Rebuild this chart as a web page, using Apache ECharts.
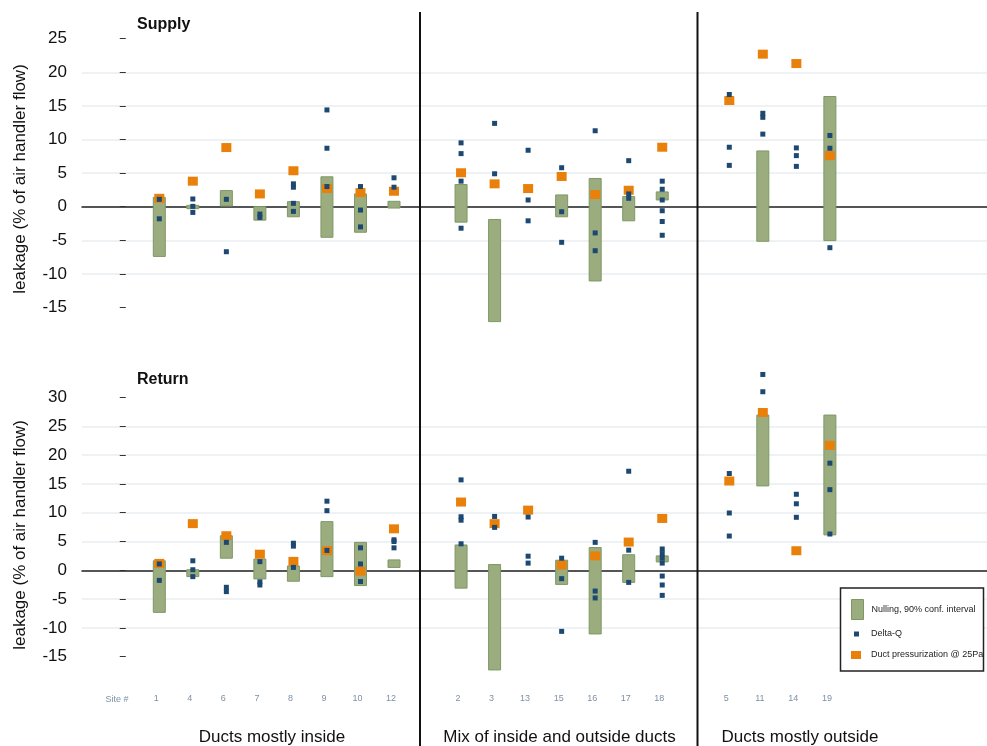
<!DOCTYPE html>
<html>
<head>
<meta charset="utf-8">
<script src="https://cdn.jsdelivr.net/npm/echarts@6/dist/echarts.min.js"></script>
<style>
  html, body { margin: 0; padding: 0; background: #ffffff; }
  #chart { width: 987px; height: 746px; }
</style>
</head>
<body>
<div id="chart"></div>
<script>
// Site order along the x axis; empty strings leave a gap between duct-location groups
const siteSlots = ['1','4','6','7','8','9','10','12','','2','3','13','15','16','17','18','','5','11','14','19'];
const sites = siteSlots.filter(s => s !== '');
const yTicksSupply = [-15, -10, -5, 0, 5, 10, 15, 20, 25];
const yTicksReturn = [-15, -10, -5, 0, 5, 10, 15, 20, 25, 30];
const groupNames = ['Ducts mostly inside', 'Mix of inside and outside ducts', 'Ducts mostly outside'];

// Supply leakage (% of air handler flow), one entry per site in `sites` order
const supplyNullingLow  = [-7.4, -0.3, 0.1, -2.0, -1.5, -4.55, -3.8, -0.2, -2.3, -17.1, null, -1.5, -11.05, -2.1, 1.0, null, -5.15, null, -5.05];
const supplyNullingHigh = [ 1.4,  0.2, 2.4,  0.0,  0.75, 4.45,  1.9,  0.8,  3.3,  -1.9, null,  1.75,  4.2,   1.5, 2.2, null,  8.3,  null, 16.4];
const supplyDeltaQ = [
  [1.1, -1.8], [1.15, 0.05, -0.85], [1.1, -6.7], [-1.1, -1.6], [3.4, 2.9, 0.5, -0.7],
  [14.4, 8.7, 3.0], [3.0, -0.5, -3.0], [4.3, 2.9],
  [9.5, 7.9, 3.8, -3.2], [12.4, 4.9], [8.4, 1.0, -2.1], [5.8, -0.75, -5.3],
  [11.3, -3.9, -6.55], [6.85, 1.9, 1.25], [3.8, 2.6, 1.0, -0.6, -2.2, -4.25],
  [16.7, 8.85, 6.15], [13.9, 13.3, 10.8], [8.75, 7.6, 6.0], [10.6, 8.7, -6.1]
];
const supplyPressurization = [1.25, 3.8, 8.8, 1.9, 5.35, 2.7, 2.1, 2.3, 5.05, 3.4, 2.7, 4.5, 1.8, 2.45, 8.85, 15.8, 22.7, 21.3, 7.6];

// Return leakage (% of air handler flow)
const returnNullingLow  = [-7.3, -1.1, 2.1, -1.5, -1.9, -1.1, -2.65, 0.5, -3.1, -17.3, null, -2.45, -11.05, -2.1, 1.45, null, 14.65, null, 6.15];
const returnNullingHigh = [ 1.65, 0.1, 6.0,  1.95, 0.75, 8.45, 4.85, 1.8,  4.4,   1.0, null,  1.75,   3.95,  2.7, 2.5,  null, 26.95, null, 26.95];
const returnDeltaQ = [
  [1.1, -1.75], [1.65, 0.1, -1.1], [4.85, -2.95, -3.7], [1.5, -2.0, -2.55], [4.7, 4.2, 0.5],
  [12.0, 10.35, 3.45], [3.9, 1.1, -1.95], [5.3, 5.0, 3.9],
  [15.7, 9.3, 8.7, 4.6], [9.35, 7.45], [9.25, 2.45, 1.25], [2.1, -1.45, -10.6],
  [4.85, -3.6, -4.8], [17.2, 3.5, -2.1], [3.7, 2.9, 2.1, 1.25, -1.0, -2.55, -4.35],
  [16.8, 9.95, 5.95], [34.0, 31.0], [13.2, 11.55, 9.2], [18.6, 14.0, 6.3]
];
const returnPressurization = [1.2, 8.1, 6.0, 2.8, 1.55, 3.4, -0.15, 7.2, 11.85, 8.1, 10.45, 0.9, 2.5, 4.9, 9.0, 15.5, 27.4, 3.4, 21.7];

const NULL_NAME = 'Nulling, 90% conf. interval';
const DQ_NAME = 'Delta-Q';
const PRESS_NAME = 'Duct pressurization @ 25Pa';

const COLOR_NULL = '#9bad7f';
const COLOR_NULL_EDGE = '#7e9865';
const COLOR_DQ = '#1c4872';
const COLOR_PRESS = '#e8800a';
const FONT = 'Liberation Sans, Arial, Helvetica, sans-serif';

// x position of a site = its slot number
const posOf = site => siteSlots.indexOf(site) + 1;
const sitePositions = sites.map(posOf);

function nullingData(lows, highs) {
  const out = [];
  sites.forEach((s, i) => {
    if (lows[i] !== null && highs[i] !== null) out.push([sitePositions[i], lows[i], highs[i]]);
  });
  return out;
}
function deltaQData(lists) {
  const out = [];
  sites.forEach((s, i) => lists[i].forEach(v => out.push([sitePositions[i], v])));
  return out;
}
function pressData(vals) {
  return sites.map((s, i) => [sitePositions[i], vals[i]]);
}

function renderNulling(params, api) {
  const x = api.value(0);
  const top = api.coord([x, api.value(2)]);
  const bottom = api.coord([x, api.value(1)]);
  const w = 12;
  return {
    type: 'rect',
    shape: { x: top[0] - w / 2, y: top[1], width: w, height: bottom[1] - top[1] },
    style: { fill: COLOR_NULL, stroke: COLOR_NULL_EDGE, lineWidth: 1 }
  };
}

const xMin = -1.3054, xMax = 25.686;

function makeYAxis(gridIndex, min, max, ticks) {
  return {
    type: 'value', gridIndex, min, max, interval: 5,
    axisLine: { show: false },
    axisTick: { show: true, length: 6, customValues: ticks, lineStyle: { color: '#333', width: 1 } },
    axisLabel: { customValues: ticks, fontSize: 17, color: '#111', fontFamily: FONT, margin: 15 },
    splitLine: { show: true, showMinLine: false, showMaxLine: false, lineStyle: { color: '#e8eef1', width: 1.5 } }
  };
}

const series = [];
[[0, supplyNullingLow, supplyNullingHigh, supplyDeltaQ, supplyPressurization],
 [1, returnNullingLow, returnNullingHigh, returnDeltaQ, returnPressurization]].forEach(([g, lo, hi, dq, pr]) => {
  series.push({
    name: NULL_NAME, type: 'custom', xAxisIndex: g, yAxisIndex: g,
    renderItem: renderNulling, data: nullingData(lo, hi),
    encode: { x: 0, y: [1, 2] }, itemStyle: { color: COLOR_NULL }, z: 2, silent: true
  });
  series.push({
    name: PRESS_NAME, type: 'scatter', xAxisIndex: g, yAxisIndex: g,
    symbol: 'rect', symbolSize: [10, 9], data: pressData(pr),
    itemStyle: { color: COLOR_PRESS, opacity: 1 }, z: 3, silent: true, clip: false
  });
  series.push({
    name: DQ_NAME, type: 'scatter', xAxisIndex: g, yAxisIndex: g,
    symbol: 'rect', symbolSize: 5, data: deltaQData(dq),
    itemStyle: { color: COLOR_DQ, opacity: 1 }, z: 4, silent: true, clip: false
  });
});

const legendText = pad => ({ fontSize: 9, color: '#222', fontFamily: FONT, padding: [0, 0, 0, pad] });

const option = {
  backgroundColor: '#ffffff',
  animation: false,
  grid: [
    { left: 82, right: 0, top: 5.1, height: 336 },
    { left: 82, right: 0, top: 368.7, height: 316.8 }
  ],
  xAxis: [
    { type: 'value', gridIndex: 0, min: xMin, max: xMax,
      axisLine: { onZero: true, lineStyle: { color: '#222', width: 1.5 } },
      axisTick: { show: false }, axisLabel: { show: false }, splitLine: { show: false } },
    { type: 'value', gridIndex: 1, min: xMin, max: xMax,
      axisLine: { onZero: true, lineStyle: { color: '#222', width: 1.5 } },
      axisTick: { show: false }, axisLabel: { show: false }, splitLine: { show: false } },
    { type: 'value', gridIndex: 1, min: xMin, max: xMax, position: 'bottom',
      axisLine: { show: false, onZero: false }, axisTick: { show: false }, splitLine: { show: false },
      axisLabel: {
        customValues: sitePositions, margin: 9, fontSize: 9, color: '#7d90a6', fontFamily: FONT,
        padding: [0, 6, 0, 0],
        formatter: v => siteSlots[Math.round(v) - 1] || ''
      } }
  ],
  yAxis: [
    makeYAxis(0, -20, 30, yTicksSupply),
    makeYAxis(1, -20, 35, yTicksReturn)
  ],
  legend: [
    { data: [{ name: NULL_NAME, icon: 'rect', itemStyle: { color: COLOR_NULL, borderColor: COLOR_NULL_EDGE, borderWidth: 1 } }],
      left: 851, top: 599, itemWidth: 12, itemHeight: 20, padding: 0, selectedMode: false, textStyle: legendText(3) },
    { data: [{ name: DQ_NAME, icon: 'rect', itemStyle: { color: COLOR_DQ } }],
      left: 854, top: 629.5, itemWidth: 5, itemHeight: 5, padding: 0, selectedMode: false, textStyle: legendText(7) },
    { data: [{ name: PRESS_NAME, icon: 'rect', itemStyle: { color: COLOR_PRESS } }],
      left: 851, top: 650.5, itemWidth: 10, itemHeight: 8, padding: 0, selectedMode: false, textStyle: legendText(5) }
  ],
  graphic: [
    // legend frame
    { type: 'rect', shape: { x: 840.5, y: 588, width: 143, height: 83 }, style: { fill: '#fff', stroke: '#222', lineWidth: 1.5 }, z: 1 },
    // group dividers
    { type: 'line', shape: { x1: 420, y1: 12, x2: 420, y2: 746 }, style: { stroke: '#111', lineWidth: 2 }, z: 10 },
    { type: 'line', shape: { x1: 697.5, y1: 12, x2: 697.5, y2: 746 }, style: { stroke: '#111', lineWidth: 2 }, z: 10 },
    // panel titles
    { type: 'text', x: 137, y: 25, style: { text: 'Supply', font: 'bold 16px ' + FONT, fill: '#111', verticalAlign: 'middle' }, z: 10 },
    { type: 'text', x: 137, y: 380, style: { text: 'Return', font: 'bold 16px ' + FONT, fill: '#111', verticalAlign: 'middle' }, z: 10 },
    // y axis titles
    { type: 'text', x: 20, y: 179, rotation: Math.PI / 2, style: { text: 'leakage (% of air handler flow)', font: '17px ' + FONT, fill: '#111', align: 'center', verticalAlign: 'middle' } },
    { type: 'text', x: 20, y: 535, rotation: Math.PI / 2, style: { text: 'leakage (% of air handler flow)', font: '17px ' + FONT, fill: '#111', align: 'center', verticalAlign: 'middle' } },
    // x label caption
    { type: 'text', x: 117, y: 700, style: { text: 'Site #', font: '9px ' + FONT, fill: '#7d90a6', align: 'center', verticalAlign: 'middle' } },
    // group captions
    { type: 'text', x: 272, y: 737, style: { text: groupNames[0], font: '17px ' + FONT, fill: '#111', align: 'center', verticalAlign: 'middle' } },
    { type: 'text', x: 559.5, y: 737, style: { text: groupNames[1], font: '17px ' + FONT, fill: '#111', align: 'center', verticalAlign: 'middle' } },
    { type: 'text', x: 800, y: 737, style: { text: groupNames[2], font: '17px ' + FONT, fill: '#111', align: 'center', verticalAlign: 'middle' } }
  ],
  series
};

const chart = echarts.init(document.getElementById('chart'), null, { renderer: 'canvas' });
chart.setOption(option);
</script>
</body>
</html>
